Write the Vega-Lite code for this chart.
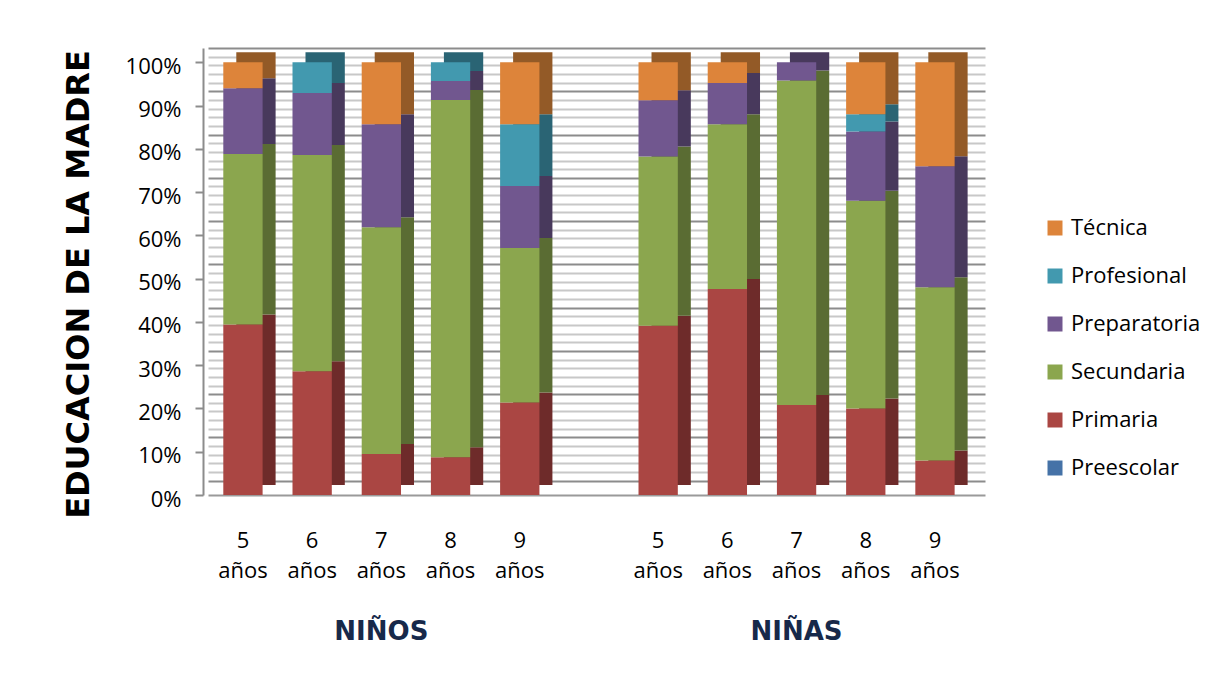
{
  "$schema": "https://vega.github.io/schema/vega-lite/v6.json",
  "autosize": {"type": "none"},
  "width": 777,
  "height": 447,
  "padding": {"left": 208, "top": 48, "right": 237, "bottom": 182},
  "background": "white",
  "config": {
    "view": {"stroke": null},
    "font": "Open Sans"
  },
  "datasets": {
    "educacion": [
      {"barra": "N5", "nivel": "Primaria", "orden": 2, "pct": 39.4},
      {"barra": "N5", "nivel": "Secundaria", "orden": 3, "pct": 39.4},
      {"barra": "N5", "nivel": "Preparatoria", "orden": 4, "pct": 15.2},
      {"barra": "N5", "nivel": "Técnica", "orden": 6, "pct": 6.0},
      {"barra": "N6", "nivel": "Primaria", "orden": 2, "pct": 28.6},
      {"barra": "N6", "nivel": "Secundaria", "orden": 3, "pct": 50.0},
      {"barra": "N6", "nivel": "Preparatoria", "orden": 4, "pct": 14.3},
      {"barra": "N6", "nivel": "Profesional", "orden": 5, "pct": 7.1},
      {"barra": "N7", "nivel": "Primaria", "orden": 2, "pct": 9.5},
      {"barra": "N7", "nivel": "Secundaria", "orden": 3, "pct": 52.4},
      {"barra": "N7", "nivel": "Preparatoria", "orden": 4, "pct": 23.8},
      {"barra": "N7", "nivel": "Técnica", "orden": 6, "pct": 14.3},
      {"barra": "N8", "nivel": "Primaria", "orden": 2, "pct": 8.7},
      {"barra": "N8", "nivel": "Secundaria", "orden": 3, "pct": 82.6},
      {"barra": "N8", "nivel": "Preparatoria", "orden": 4, "pct": 4.35},
      {"barra": "N8", "nivel": "Profesional", "orden": 5, "pct": 4.35},
      {"barra": "N9", "nivel": "Primaria", "orden": 2, "pct": 21.4},
      {"barra": "N9", "nivel": "Secundaria", "orden": 3, "pct": 35.7},
      {"barra": "N9", "nivel": "Preparatoria", "orden": 4, "pct": 14.3},
      {"barra": "N9", "nivel": "Profesional", "orden": 5, "pct": 14.3},
      {"barra": "N9", "nivel": "Técnica", "orden": 6, "pct": 14.3},
      {"barra": "F5", "nivel": "Primaria", "orden": 2, "pct": 39.1},
      {"barra": "F5", "nivel": "Secundaria", "orden": 3, "pct": 39.1},
      {"barra": "F5", "nivel": "Preparatoria", "orden": 4, "pct": 13.0},
      {"barra": "F5", "nivel": "Técnica", "orden": 6, "pct": 8.8},
      {"barra": "F6", "nivel": "Primaria", "orden": 2, "pct": 47.6},
      {"barra": "F6", "nivel": "Secundaria", "orden": 3, "pct": 38.1},
      {"barra": "F6", "nivel": "Preparatoria", "orden": 4, "pct": 9.5},
      {"barra": "F6", "nivel": "Técnica", "orden": 6, "pct": 4.8},
      {"barra": "F7", "nivel": "Primaria", "orden": 2, "pct": 20.8},
      {"barra": "F7", "nivel": "Secundaria", "orden": 3, "pct": 75.0},
      {"barra": "F7", "nivel": "Preparatoria", "orden": 4, "pct": 4.2},
      {"barra": "F8", "nivel": "Primaria", "orden": 2, "pct": 20.0},
      {"barra": "F8", "nivel": "Secundaria", "orden": 3, "pct": 48.0},
      {"barra": "F8", "nivel": "Preparatoria", "orden": 4, "pct": 16.0},
      {"barra": "F8", "nivel": "Profesional", "orden": 5, "pct": 4.0},
      {"barra": "F8", "nivel": "Técnica", "orden": 6, "pct": 12.0},
      {"barra": "F9", "nivel": "Primaria", "orden": 2, "pct": 8.0},
      {"barra": "F9", "nivel": "Secundaria", "orden": 3, "pct": 40.0},
      {"barra": "F9", "nivel": "Preparatoria", "orden": 4, "pct": 28.0},
      {"barra": "F9", "nivel": "Técnica", "orden": 6, "pct": 24.0}
    ],
    "grupos": [
      {"grupo": "NIÑOS", "barra": "N7"},
      {"grupo": "NIÑAS", "barra": "F7"}
    ]
  },
  "data": {"name": "educacion"},
  "encoding": {
    "x": {
      "field": "barra",
      "type": "nominal",
      "scale": {
        "domain": ["N5", "N6", "N7", "N8", "N9", "hueco", "F5", "F6", "F7", "F8", "F9"],
        "paddingInner": 0.432,
        "paddingOuter": 0.33,
        "align": 0.335
      },
      "axis": {
        "title": null,
        "labelAngle": 0,
        "labelExpr": "datum.value == 'hueco' ? '' : [slice(datum.value, 1), 'años']",
        "labelFont": "Open Sans",
        "labelFontSize": 22,
        "labelColor": "#000000",
        "labelBaseline": "top",
        "labelLineHeight": 30,
        "labelPadding": 35,
        "ticks": false,
        "domainColor": "#9a9a9a",
        "domainWidth": 2,
        "grid": false
      }
    }
  },
  "layer": [
    {
      "description": "Back-wall grid: major lines every 10%, minor every 2%",
      "mark": {"type": "tick", "opacity": 0},
      "encoding": {
        "x": {"field": "barra", "type": "nominal"},
        "y": {
          "field": "pct",
          "type": "quantitative",
          "scale": {"domain": [-3.3, 100], "nice": false, "zero": false},
          "axis": {
            "orient": "right",
            "title": null,
            "labels": false,
            "ticks": false,
            "domain": false,
            "grid": true,
            "values": [0,2,4,6,8,10,12,14,16,18,20,22,24,26,28,30,32,34,36,38,40,42,44,46,48,50,52,54,56,58,60,62,64,66,68,70,72,74,76,78,80,82,84,86,88,90,92,94,96,98,100],
            "gridColor": {"condition": {"test": "datum.value % 10 === 0", "value": "#8c8c8c"}, "value": "#c8c8c8"},
            "gridWidth": 2
          }
        }
      }
    },
    {
      "layer": [
        {
          "description": "Side faces of the 3D columns",
          "mark": {"type": "bar", "xOffset": 13, "yOffset": -10},
          "encoding": {
            "y": {
              "field": "pct",
              "type": "quantitative",
              "stack": "zero",
              "scale": {"domain": [0, 103.3], "nice": false},
              "axis": {
                "orient": "left",
                "values": [0, 10, 20, 30, 40, 50, 60, 70, 80, 90, 100],
                "labelExpr": "datum.value + '%'",
                "labelFont": "Open Sans",
                "labelFontSize": 22,
                "labelColor": "#000000",
                "labelPadding": 14,
                "labelOffset": 4,
                "offset": 5,
                "tickSize": 8,
                "tickColor": "#8c8c8c",
                "tickWidth": 2,
                "domainColor": "#8c8c8c",
                "domainWidth": 2,
                "grid": false,
                "title": "EDUCACION DE LA MADRE",
                "titleFont": "DejaVu Sans",
                "titleFontWeight": "bold",
                "titleFontSize": 32,
                "titleColor": "#000000",
                "titleAngle": 270,
                "titleAlign": "center",
                "titleBaseline": "middle",
                "titleX": -125,
                "titleY": 236
              }
            },
            "order": {"field": "orden", "type": "quantitative"},
            "color": {
              "field": "nivel",
              "type": "nominal",
              "scale": {
                "domain": ["Técnica", "Profesional", "Preparatoria", "Secundaria", "Primaria", "Preescolar"],
                "range": ["#935a27", "#2a6474", "#48395c", "#5a6c33", "#6e2b2a", "#2d4a6e"]
              },
              "legend": null
            }
          }
        },
        {
          "description": "Front faces of the columns",
          "mark": {"type": "bar"},
          "encoding": {
            "y": {"field": "pct", "type": "quantitative", "stack": "zero"},
            "order": {"field": "orden", "type": "quantitative"},
            "color": {
              "field": "nivel",
              "type": "nominal",
              "scale": {
                "domain": ["Técnica", "Profesional", "Preparatoria", "Secundaria", "Primaria", "Preescolar"],
                "range": ["#dd843a", "#4299af", "#71578f", "#8ba64e", "#aa4643", "#4572a7"]
              },
              "legend": {
                "orient": "none",
                "legendX": 836,
                "legendY": 169,
                "title": null,
                "symbolType": "square",
                "symbolSize": 225,
                "symbolStrokeWidth": 0,
                "labelFont": "Open Sans",
                "labelFontSize": 22,
                "labelColor": "#000000",
                "labelOffset": 5,
                "rowPadding": 26,
                "padding": 0
              }
            }
          }
        },
        {
          "description": "Group captions under each block of columns",
          "data": {"name": "grupos"},
          "mark": {"type": "text", "font": "DejaVu Sans", "fontWeight": "bold", "fontSize": 26, "color": "#17294a", "baseline": "middle", "dy": 137},
          "encoding": {
            "x": {"field": "barra", "type": "nominal"},
            "y": {"datum": 0},
            "text": {"field": "grupo"}
          }
        }
      ],
      "resolve": {"scale": {"color": "independent"}, "legend": {"color": "independent"}}
    }
  ],
  "resolve": {"scale": {"y": "independent"}, "axis": {"y": "independent"}}
}
